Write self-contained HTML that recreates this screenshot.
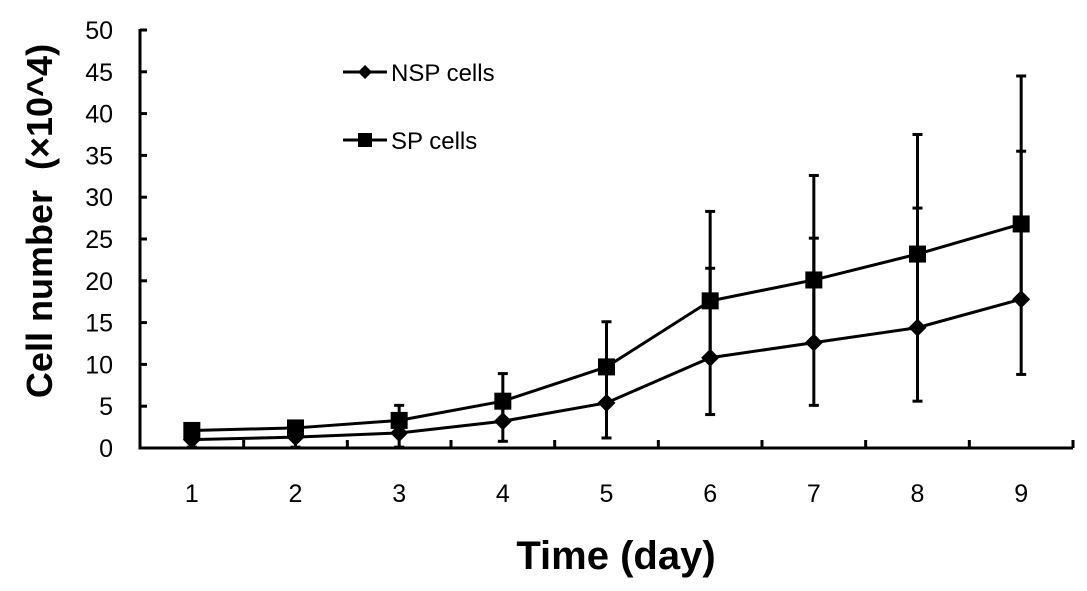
<!DOCTYPE html>
<html><head><meta charset="utf-8"><style>
html,body{margin:0;padding:0;background:#fff;}
svg{display:block;font-family:"Liberation Sans",Arial,sans-serif;}
</style></head><body>
<svg id="chart" width="1087" height="591" viewBox="0 0 1087 591"></svg>
<script>
const categories = [1,2,3,4,5,6,7,8,9];
const nspValues = [1.0,1.3,1.8,3.2,5.4,10.8,12.6,14.4,17.8];
const spValues  = [2.1,2.4,3.3,5.6,9.7,17.6,20.1,23.2,26.8];
const nspErrUp   = [1.1,1.1,1.5,2.4,4.3,10.7,12.5,14.3,17.7];
const nspErrDown = [0.9,1.2,1.7,2.4,4.2,6.8,7.5,8.8,9.0];
const spErrUp    = [0.5,0.8,1.8,3.3,5.4,10.7,12.5,14.3,17.7];
const spErrDown  = [1.1,1.1,1.5,2.4,4.3,6.8,7.5,8.8,9.0];
const yTicks = [0,5,10,15,20,25,30,35,40,45,50];

const NS='http://www.w3.org/2000/svg';
const svg=document.getElementById('chart');
const X0=140,X1=1073,Y0=448,Y1=30,YMAX=50;
const step=(X1-X0)/categories.length;
function xs(i){return X0+step*(i+0.5);}
function ys(v){return Y0-(v/YMAX)*(Y0-Y1);}
function mk(tag,attrs,parent){const e=document.createElementNS(NS,tag);for(const k in attrs)e.setAttribute(k,attrs[k]);(parent||svg).appendChild(e);return e;}

const yAxis=mk('line',{x1:X0,y1:Y1-1,x2:X0,y2:Y0+1.5,stroke:'#000','stroke-width':3});


const xAxis=mk('line',{x1:X0-1.5,y1:Y0,x2:X1,y2:Y0,stroke:'#000','stroke-width':3});



yTicks.forEach(t=>{
  const y=ys(t);
  const tk=mk('line',{x1:X0,y1:y,x2:X0+7,y2:y,stroke:'#000','stroke-width':3});
  
  
  const lb=mk('text',{x:113,y:y+9,'text-anchor':'end','font-size':25});
  lb.textContent=t;
  
  
});
for(let i=1;i<=categories.length;i++){
  const x=X0+step*i;
  const tk=mk('line',{x1:x,y1:Y0,x2:x,y2:Y0-8,stroke:'#000','stroke-width':3});
  
  
}
categories.forEach((c,i)=>{
  const lb=mk('text',{x:xs(i),y:502,'text-anchor':'middle','font-size':25});
  lb.textContent=c;
  
  
});

function errBar(i,lo,hi){
  const x=xs(i);
  const g=mk('g',{stroke:'#000','stroke-width':3});
  
  
  mk('line',{x1:x,y1:ys(lo),x2:x,y2:ys(hi)},g);
  mk('line',{x1:x-5,y1:ys(lo),x2:x+5,y2:ys(lo)},g);
  mk('line',{x1:x-5,y1:ys(hi),x2:x+5,y2:ys(hi)},g);
}
categories.forEach((c,i)=>{
  errBar(i,nspValues[i]-nspErrDown[i],nspValues[i]+nspErrUp[i]);
  errBar(i,spValues[i]-spErrDown[i],spValues[i]+spErrUp[i]);
});

function series(vals,name){
  const pts=vals.map((v,i)=>xs(i)+','+ys(v)).join(' ');
  const pl=mk('polyline',{points:pts,fill:'none',stroke:'#000','stroke-width':3});
  
  
}
series(nspValues,'nsp-line');
series(spValues,'sp-line');
function diamond(x,y,s){s=s||9;return mk('polygon',{points:`${x},${y-s} ${x+s},${y} ${x},${y+s} ${x-s},${y}`,fill:'#000'});}
function square(x,y,s){s=s||8.5;return mk('rect',{x:x-s,y:y-s,width:2*s,height:2*s,fill:'#000'});}
nspValues.forEach((v,i)=>{const m=diamond(xs(i),ys(v));
  
  });
spValues.forEach((v,i)=>{const m=square(xs(i),ys(v));
  
  });

const lg=mk('g',{});


[['NSP cells',72,diamond,'legend-entry-nsp'],['SP cells',140,square,'legend-entry-sp']].forEach(([t,y,f,n])=>{
  const g=mk('g',{},lg);
  
  
  mk('line',{x1:343,y1:y,x2:387,y2:y,stroke:'#000','stroke-width':3},g);
  g.appendChild(f(365,y,7));
  const tx=mk('text',{x:391,y:y+9,'font-size':24},g);
  tx.textContent=t;
});

const yt=mk('text',{x:0,y:0,'text-anchor':'middle','font-size':36,'font-weight':'bold',style:'white-space:pre',transform:'translate(52,221) rotate(-90)'});
yt.textContent='Cell number  (×10^4)';


const xt=mk('text',{x:616,y:569,'text-anchor':'middle','font-size':40,'font-weight':'bold'});
xt.textContent='Time (day)';


</script>
</body></html>
